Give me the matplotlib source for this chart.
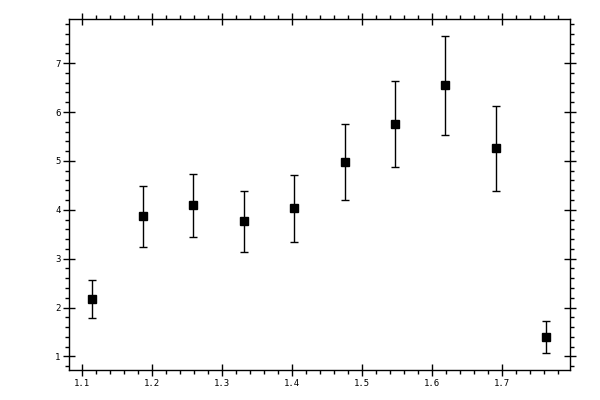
import numpy as np
import matplotlib
matplotlib.use("Agg")
import matplotlib.pyplot as plt
from matplotlib.ticker import MultipleLocator

# ---------- data ----------
x_vals = [1.1147, 1.1867, 1.2587, 1.3307, 1.4027, 1.4747, 1.5467, 1.6187, 1.6907, 1.7627]
y_vals = [2.167, 3.867, 4.092, 3.765, 4.031, 4.973, 5.751, 6.550, 5.260, 1.389]
y_err = [0.39, 0.62, 0.65, 0.62, 0.69, 0.78, 0.88, 1.01, 0.87, 0.33]

fig = plt.figure(figsize=(6, 4), dpi=100)
ax = fig.add_axes([0.1158, 0.074, 0.8342, 0.878])

ax.errorbar(x_vals, y_vals, yerr=y_err, fmt="s", color="black",
            markersize=5.2, elinewidth=1.0, capsize=2.6, capthick=1.0)

ax.set_xlim(1.0819, 1.7967)
ax.set_ylim(0.713, 7.90)

ax.xaxis.set_major_locator(MultipleLocator(0.1))
ax.xaxis.set_minor_locator(MultipleLocator(0.02))
ax.yaxis.set_major_locator(MultipleLocator(1))
ax.yaxis.set_minor_locator(MultipleLocator(0.2))

ax.tick_params(which="major", direction="inout", length=9, width=1,
               top=True, right=True, labelsize=6.5, pad=2)
ax.tick_params(which="minor", direction="out", length=3, width=1,
               top=True, right=True)
ax.xaxis.set_major_formatter(matplotlib.ticker.FormatStrFormatter("%.1f"))
ax.yaxis.set_major_formatter(matplotlib.ticker.FormatStrFormatter("%d"))
for lab in ax.get_xticklabels() + ax.get_yticklabels():
    lab.set_family("DejaVu Sans Mono")

for sp in ax.spines.values():
    sp.set_linewidth(1.0)

fig.savefig("out.png", dpi=100)
